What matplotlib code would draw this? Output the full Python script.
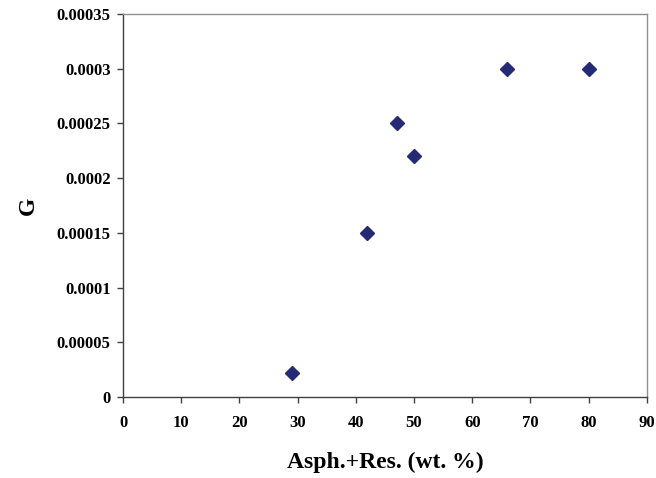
import matplotlib
matplotlib.use("Agg")
import matplotlib.pyplot as plt

# data
asph_res = [29, 42, 47, 50, 66, 80]
g_values = [0.000022, 0.00015, 0.00025, 0.00022, 0.0003, 0.0003]

x_ticks = [0, 10, 20, 30, 40, 50, 60, 70, 80, 90]
y_ticks = [0, 0.00005, 0.0001, 0.00015, 0.0002, 0.00025, 0.0003, 0.00035]
y_tick_labels = ["0", "0.00005", "0.0001", "0.00015", "0.0002", "0.00025", "0.0003", "0.00035"]

plt.rcParams['font.family'] = ['Liberation Serif', 'DejaVu Serif']
plt.rcParams['font.weight'] = 'bold'

fig = plt.figure(figsize=(6.56, 4.78), dpi=100)
ax = fig.add_axes([0.1875, 0.1695, 0.7985, 0.8012])

ax.plot(asph_res, g_values, linestyle='none', marker='D', markersize=7,
        color='#242a73', markeredgecolor='#242a73')

ax.set_xlim(0, 90)
ax.set_ylim(0, 0.00035)
ax.set_xticks(x_ticks)
ax.set_xticklabels([str(t) for t in x_ticks])
ax.set_yticks(y_ticks)
ax.set_yticklabels(y_tick_labels)

ax.tick_params(axis='both', direction='out', length=4, width=1, color='#404040',
               labelsize=12)
ax.tick_params(axis='x', pad=9)
ax.tick_params(axis='y', pad=5)
for lbl in ax.get_xticklabels() + ax.get_yticklabels():
    lbl.set_fontweight('bold')

for side in ['left', 'bottom']:
    ax.spines[side].set_color('#404040')
    ax.spines[side].set_linewidth(1)
for side in ['top', 'right']:
    ax.spines[side].set_color('#909090')
    ax.spines[side].set_linewidth(1)

ax.set_xlabel("Asph.+Res. (wt. %)", fontsize=17, fontweight='bold', labelpad=15)
ax.set_ylabel("G", fontsize=17, fontweight='bold', labelpad=13)

fig.savefig("out.png", dpi=100)
